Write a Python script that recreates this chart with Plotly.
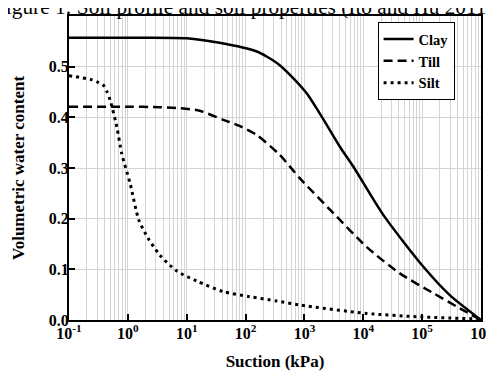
import plotly.graph_objects as go

# Suction (kPa) and volumetric water content
clay_suction = [0.1, 1, 10, 36, 155, 228, 380, 650, 1100, 2100, 4000, 6800, 22000, 105000, 295000, 1e6]
clay_theta   = [0.557, 0.557, 0.556, 0.547, 0.530, 0.520, 0.503, 0.477, 0.447, 0.396, 0.342, 0.3025, 0.207, 0.105, 0.049, 0.0]

till_suction = [0.1, 1, 3.5, 7.7, 16.6, 42, 79, 155, 380, 830, 3100, 11200, 41700, 155000, 437000, 1e6]
till_theta   = [0.421, 0.421, 0.420, 0.418, 0.413, 0.395, 0.383, 0.365, 0.326, 0.280, 0.211, 0.145, 0.092, 0.053, 0.023, 0.0]

silt_suction = [0.1, 0.23, 0.30, 0.38, 0.44, 0.50, 0.65, 0.785, 1.09, 1.54, 2.22, 3.5, 6.7, 14.7, 41.7, 117, 339, 830, 11200, 79400, 1e6]
silt_theta   = [0.482, 0.475, 0.470, 0.464, 0.451, 0.434, 0.381, 0.329, 0.270, 0.197, 0.161, 0.128, 0.097, 0.077, 0.056, 0.046, 0.0375, 0.0296, 0.013, 0.0066, 0.002]

x_tickvals = [1e-1, 1e0, 1e1, 1e2, 1e3, 1e4, 1e5, 1e6]
x_ticktext = ["10<sup>-1</sup>", "10<sup>0</sup>", "10<sup>1</sup>", "10<sup>2</sup>",
              "10<sup>3</sup>", "10<sup>4</sup>", "10<sup>5</sup>", "10<sup>6</sup>"]
y_tickvals = [0.0, 0.1, 0.2, 0.3, 0.4, 0.5, 0.6]

SERIF = "Liberation Serif"
GRID = "#d4d4d4"

fig = go.Figure()
fig.add_trace(go.Scatter(x=clay_suction, y=clay_theta, mode="lines", name="Clay",
                         line=dict(color="black", width=2.5, shape="spline", smoothing=0.7)))
fig.add_trace(go.Scatter(x=till_suction, y=till_theta, mode="lines", name="Till",
                         line=dict(color="black", width=2.5, dash="9px,5px", shape="spline", smoothing=0.7)))
fig.add_trace(go.Scatter(x=silt_suction, y=silt_theta, mode="lines", name="Silt",
                         line=dict(color="black", width=3, dash="3px,4px", shape="spline", smoothing=0.7)))

# the page body has an 8px default margin, so the figure is sized to fit the window
fig.update_layout(
    width=486, height=363,
    margin=dict(l=61, r=12.5, t=8, b=51, autoexpand=False),
    paper_bgcolor="white", plot_bgcolor="white",
    font=dict(family=SERIF, color="black"),
    showlegend=True,
    legend=dict(x=0.749, y=0.980, xanchor="left", yanchor="top",
                bgcolor="white", bordercolor="black", borderwidth=1,
                font=dict(family=SERIF, size=14.5, weight="bold", color="black"),
                tracegroupgap=0, itemwidth=30),
)

fig.update_xaxes(
    type="log", range=[-1, 6], automargin=False,
    tickvals=x_tickvals, ticktext=x_ticktext,
    tickfont=dict(family=SERIF, size=16, weight="bold"),
    ticks="inside", ticklen=6, tickwidth=1.5, tickcolor="black",
    ticklabelstandoff=-2,
    showgrid=True, gridcolor=GRID, gridwidth=1,
    minor=dict(dtick="D1", showgrid=True, gridcolor=GRID, gridwidth=1, ticks=""),
    showline=True, linecolor="black", linewidth=2, mirror=True,
    zeroline=False,
    title=dict(text="<b>Suction (kPa)</b>", font=dict(family=SERIF, size=17), standoff=16),
)
fig.update_yaxes(
    range=[0, 0.6], tickvals=y_tickvals, tickformat=".1f", automargin=False,
    tickfont=dict(family=SERIF, size=16, weight="bold"),
    ticks="inside", ticklen=6, tickwidth=1.5, tickcolor="black",
    ticklabelstandoff=-5,
    showgrid=True, gridcolor=GRID, gridwidth=1,
    showline=True, linecolor="black", linewidth=2, mirror=True,
    zeroline=False,
    title=dict(text="<b>Volumetric water content</b>", font=dict(family=SERIF, size=17), standoff=20),
)

fig.add_annotation(text="Figure 1: Soil profile and soil properties (Ito and Hu 2011)",
                   xref="paper", yref="paper", x=1.0376, y=1.0296,
                   xanchor="right", yanchor="middle", showarrow=False,
                   font=dict(family=SERIF, size=21.3, color="black"))

fig.write_html("out.html")
